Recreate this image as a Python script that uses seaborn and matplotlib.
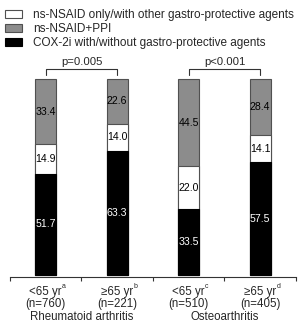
import numpy as np
import pandas as pd
import matplotlib
matplotlib.use("Agg")
import matplotlib.pyplot as plt
from matplotlib.patches import Patch
import seaborn as sns

groups = ["RA <65", "RA >=65", "OA <65", "OA >=65"]
cox2 = [51.7, 63.3, 33.5, 57.5]
nsaid_only = [14.9, 14.0, 22.0, 14.1]
nsaid_ppi = [33.4, 22.6, 44.5, 28.4]
age_labels = ["<65 yr", "≥65 yr", "<65 yr", "≥65 yr"]
age_marks = ["a", "b", "c", "d"]
n_labels = ["(n=760)", "(n=221)", "(n=510)", "(n=405)"]
disease_labels = ["Rheumatoid arthritis", "Osteoarthritis"]
legend_labels = ["ns-NSAID only/with other gastro-protective agents",
                 "ns-NSAID+PPI",
                 "COX-2i with/without gastro-protective agents"]
p_values = ["p=0.005", "p<0.001"]

sns.set_style("white")
plt.rcParams["font.family"] = ["Liberation Sans", "DejaVu Sans"]

df = pd.DataFrame({"group": groups, "cox2": cox2, "only": nsaid_only, "ppi": nsaid_ppi})
df["mid"] = df["cox2"] + df["only"]
df["top"] = df["mid"] + df["ppi"]

grey = "#8c8c8c"
edge = "#505050"

fig = plt.figure(figsize=(2.98, 3.27), dpi=100)
ax = fig.add_axes([10/298, 50/327, 286/298, 221.5/327])

sns.barplot(data=df, x="group", y="top", color=grey, width=0.29, edgecolor=edge, linewidth=0.8, saturation=1, ax=ax)
sns.barplot(data=df, x="group", y="mid", color="white", width=0.29, edgecolor=edge, linewidth=0.8, saturation=1, ax=ax)
sns.barplot(data=df, x="group", y="cox2", color="black", width=0.29, edgecolor="black", linewidth=0.8, saturation=1, ax=ax)

# segment labels
for i in range(len(groups)):
    ax.text(i, df["cox2"][i] / 2, f"{cox2[i]:.1f}", ha="center", va="center", color="white", fontsize=7.6)
    ax.text(i, df["cox2"][i] + nsaid_only[i] / 2, f"{nsaid_only[i]:.1f}", ha="center", va="center", color="black", fontsize=7.6)
    ax.text(i, df["mid"][i] + nsaid_ppi[i] / 2, f"{nsaid_ppi[i]:.1f}", ha="center", va="center", color="black", fontsize=7.6)

# brackets
for k, p in enumerate(p_values):
    x0, x1 = 2 * k, 2 * k + 1
    ax.plot([x0, x0, x1, x1], [102, 105, 105, 102], color="#333333", lw=0.8, clip_on=False)
    ax.text((x0 + x1) / 2, 108.8, p, ha="center", va="center", fontsize=8.2)

ax.set_xlim(-0.5, 3.5)
ax.set_ylim(-1, 112)
ax.set_xticks([-0.5, 0.5, 1.5, 2.5, 3.5])
ax.set_xticklabels([])
ax.set_yticks([])
ax.set_xlabel("")
ax.set_ylabel("")
ax.tick_params(axis="x", direction="out", length=3, width=0.8, color="#333333", bottom=True)
for s in ["top", "right", "left"]:
    ax.spines[s].set_visible(False)
ax.spines["bottom"].set_color("#333333")
ax.spines["bottom"].set_linewidth(0.8)

trans = matplotlib.transforms.blended_transform_factory(ax.transData, fig.transFigure)
for i in range(len(groups)):
    ax.text(i, 1 - 292/327, age_labels[i], ha="center", va="center", fontsize=8.3, transform=trans)
    ax.text(i + 0.23, 1 - 287/327, age_marks[i], ha="left", va="center", fontsize=5, transform=trans)
    ax.text(i, 1 - 304.5/327, n_labels[i], ha="center", va="center", fontsize=8.3, transform=trans)
for k, d in enumerate(disease_labels):
    ax.text(2 * k + 0.5, 1 - 317.5/327, d, ha="center", va="center", fontsize=8.3, transform=trans)

handles = [Patch(facecolor="white", edgecolor=edge, linewidth=0.8),
           Patch(facecolor=grey, edgecolor=edge, linewidth=0.8),
           Patch(facecolor="black", edgecolor="black", linewidth=0.8)]
fig.legend(handles, legend_labels, loc="upper left", bbox_to_anchor=(5/298, 1 - 9/327),
           frameon=False, fontsize=8.5, borderpad=0, borderaxespad=0, handlelength=1.45,
           handleheight=0.65, handletextpad=0.95, labelspacing=0.18)

fig.savefig("out.png", dpi=100)
